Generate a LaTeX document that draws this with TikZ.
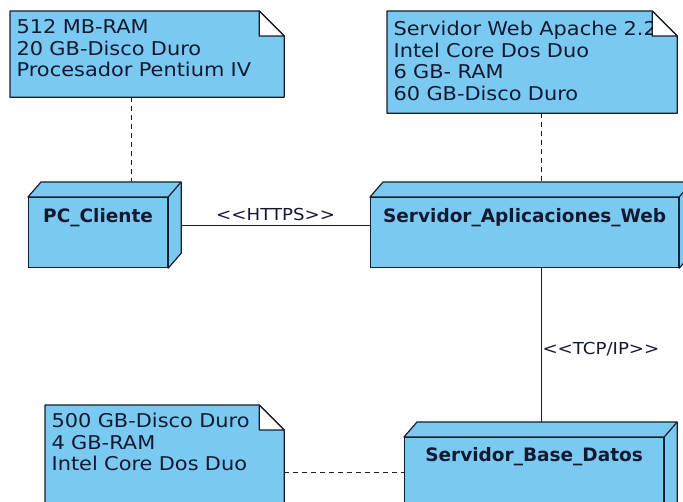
\documentclass[tikz,border=0pt]{standalone}
\usepackage{fontspec}
\newfontfamily\notafont[FakeStretch=1.1]{DejaVu Sans}
\newfontfamily\nodofont{DejaVu Sans}
\usetikzlibrary{backgrounds}

\definecolor{azul}{RGB}{122,201,240}
\definecolor{borde}{RGB}{25,30,45}
\definecolor{texto}{RGB}{20,25,50}

\begin{document}
\begin{tikzpicture} [x=1pt, y=-1pt,
            line width=1.2pt,
            nodo/.style = {draw=borde, fill=azul, anchor=north west,
                align=center, inner xsep=2pt, inner ysep=0pt,
                text height=25pt, text=texto,
                font=\nodofont\bfseries\fontsize{18.5}{22}\selectfont},
            nota/.style = {anchor=north west, align=left,
                inner xsep=6pt, inner ysep=0pt, text=texto,
                font=\notafont\fontsize{19}{21.5}\selectfont},
            hoja/.style = {draw=borde, line width=1.2pt, line join=round},
            enlace/.style = {draw=borde, line width=1pt},
            puntos/.style = {enlace, dash pattern=on 5pt off 4pt},
            rotulo/.style = {text=texto,
                font=\notafont\fontsize{16.5}{20}\selectfont}]

            \useasboundingbox (0,0) rectangle (683,502);

            % Notas
            \node (nota1) [nota, text width=261pt,
                text height=22pt, text depth=63pt] at (10,11)
                {512 MB-RAM\\20 GB-Disco Duro\\Procesador Pentium IV};

            \node (nota2) [nota, text width=277pt,
                text height=24pt, text depth=77pt] at (387,11)
                {Servidor Web Apache 2.2\\Intel Core Dos Duo\\6 GB- RAM\\60 GB-Disco Duro};

            \node (nota3) [nota, text width=226pt,
                text height=22pt, text depth=100pt] at (45,405)
                {500 GB-Disco Duro\\4 GB-RAM\\Intel Core Dos Duo};

            % Nodos
            \node (pc) [nodo, text width=135pt, text depth=45pt]
                at (28,197) {PC\_Cliente};

            \node (saw) [nodo, text width=304pt, text depth=45pt]
                at (370,197) {Servidor\_Aplicaciones\_Web};

            \node (sbd) [nodo, text width=255pt,
                text height=24pt, text depth=65pt]
                at (404,437) {Servidor\_Base\_Datos};

            % Enlaces
            \coordinate (eje1) at (131,0);
            \coordinate (eje2) at (541,0);
            \coordinate (eje3) at (0,473);

            \draw [puntos] (nota1.south -| eje1) -- (pc.north -| eje1);
            \draw [puntos] (nota2.south -| eje2) -- (saw.north -| eje2);
            \draw [puntos] (nota3.east |- eje3) -- (sbd.west |- eje3);

            \draw [enlace] ([shift={(13pt,7.5pt)}]pc.east)
                -- node [rotulo, above, inner sep=4pt]
                {<\kern0pt<HTTPS>\kern0pt>} ([yshift=7.5pt]saw.west);
            \draw [enlace] (saw.south -| eje2)
                -- node [rotulo, right, inner sep=1pt, pos=0.48]
                {<\kern0pt<TCP/IP>\kern0pt>} (sbd.north -| eje2);

            % Caras 3D
            \foreach \n in {pc, saw, sbd} {
                \filldraw [hoja, fill=azul]
                    (\n.north west) -- ([shift={(13pt,15pt)}]\n.north west)
                    -- ([shift={(13pt,15pt)}]\n.north east)
                    -- ([shift={(13pt,15pt)}]\n.south east)
                    -- (\n.south east) -- (\n.north east) -- cycle;
                \draw [hoja]
                    (\n.north east) -- ([shift={(13pt,15pt)}]\n.north east);
            }

            % Esquinas dobladas
            \foreach \n in {nota1, nota2, nota3}
                \filldraw [hoja, fill=white]
                    ([xshift=-25pt]\n.north east)
                    -- ([xshift=-25pt, yshift=-25pt]\n.north east)
                    -- ([yshift=-25pt]\n.north east) -- cycle;

            \begin{pgfonlayer}{background}
                \fill [white] (0,0) rectangle (683,502);
                \foreach \n in {nota1, nota2, nota3}
                    \filldraw [hoja, fill=azul]
                        (\n.north west) -- ([xshift=-25pt]\n.north east)
                        -- ([yshift=-25pt]\n.north east)
                        -- (\n.south east) -- (\n.south west) -- cycle;
            \end{pgfonlayer}
        \end{tikzpicture}
\end{document}
